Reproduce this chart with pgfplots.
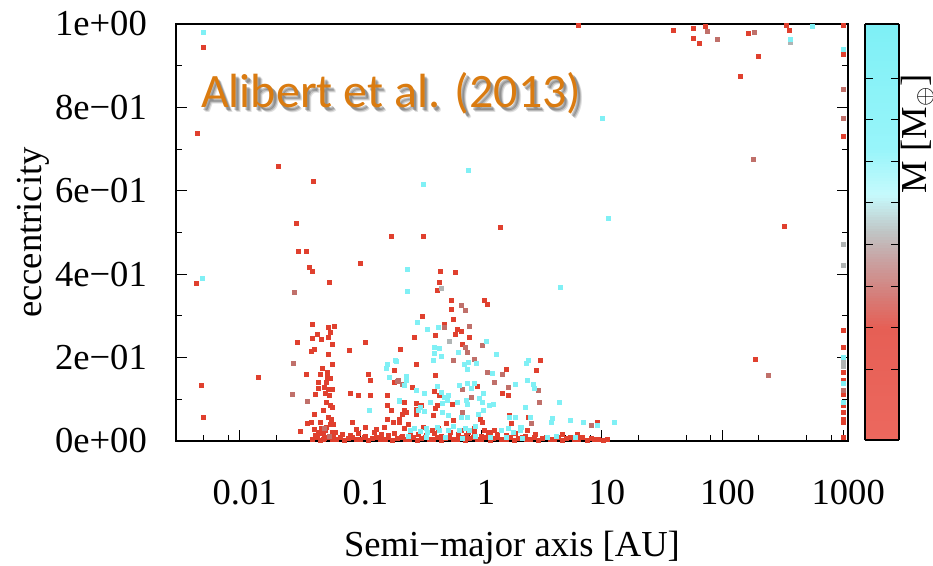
\documentclass[border=0pt]{standalone}
\usepackage{fontspec}
\setmainfont{Liberation Serif}
\newfontfamily\calibri{Carlito}
\usepackage{pgfplots}
\pgfplotsset{compat=1.18}
\definecolor{ptred}{RGB}{224,64,46}
\definecolor{ptrosy}{RGB}{192,112,106}
\definecolor{ptgrey}{RGB}{176,180,180}
\definecolor{ptcyan}{RGB}{128,240,245}
\definecolor{ttlorange}{RGB}{218,123,16}
\begin{document}
\begin{tikzpicture}[x=1pt,y=1pt]
\path[use as bounding box] (0pt,0pt) rectangle (933pt,565pt);
\begin{axis}[
  at={(176pt,124pt)}, anchor=south west,
  scale only axis, width=672pt, height=417pt,
  xmode=log, xmin=0.002965, xmax=1096, ymin=0, ymax=1,
  clip=false,
  xtick={0.01,0.1,1,10,100,1000},
  xticklabels={0.01,0.1,1,10,100,1000},
  minor xtick={0.005,0.008,0.02,0.05,0.08,0.2,0.5,0.8,2,5,8,20,50,80,200,500,800},
  ytick={0,0.2,0.4,0.6,0.8,1},
  yticklabels={0e+00,2e−01,4e−01,6e−01,8e−01,1e+00},
  minor ytick={0.1,0.3,0.5,0.7,0.9},
  xtick pos=left, ytick pos=both,
  tick align=inside,
  major tick length=11pt, minor tick length=6pt,
  tick style={black, line width=1pt},
  axis line style={line width=1.2pt, black},
  tick label style={font=\fontsize{36.6}{40}\selectfont},
  xticklabel style={inner sep=0pt, anchor=north, yshift=-39pt, xshift=5pt},
  yticklabel style={inner sep=0pt, anchor=east, xshift=-29pt},
  xlabel={Semi−major axis [AU]}, ylabel={eccentricity},
  label style={font=\fontsize{36.6}{40}\selectfont, inner sep=0pt},
  xlabel style={at={(axis description cs:0.5,-0.2758)}, anchor=base},
  ylabel style={at={(axis description cs:-0.1994,0.5)}, anchor=base},
  point meta min=0, point meta max=10,
  colormap={ecc}{rgb255(0cm)=(236,104,94); rgb255(2.7cm)=(230,95,85); rgb255(3.4cm)=(215,122,117); rgb255(4.4cm)=(200,165,165); rgb255(5cm)=(192,196,196); rgb255(5.9cm)=(198,250,252); rgb255(7cm)=(152,245,250); rgb255(10cm)=(126,240,246)},
  colorbar sampled,
  colorbar style={
    at={(parent axis.north east)}, anchor=north west, xshift=8.5pt,
    scale only axis, width=34pt, height=416pt,
    samples=150,
    axis on top,
    ytick={1.7,2.7,3.7,4.7,5.7,6.7,7.7,8.7},
    yticklabels={,,,,,,,},
    ytick pos=both, tick align=inside, major tick length=8pt,
    tick style={black, line width=1pt},
    axis line style={line width=1.2pt, black},
  },
]
% red planets
\addplot[only marks, mark=square*, mark size=2pt, color=ptred] table {
a e
0.005 0.945
0.00445 0.738
0.0209 0.658
0.0407 0.623
6.4 0.998
38.7 0.985
57 0.99
57 0.967
64 0.953
72 0.994
164 0.978
196 0.922
140 0.875
340 0.998
356 0.986
1000 0.998
1000 0.935
1000 0.928
1000 0.732
325 0.516
186 0.196
1000 0.265
1000 0.225
1000 0.166
1000 0.145
1000 0.113
1000 0.085
1000 0.07
1000 0.052
1000 0.044
1000 0.01
0.0291 0.522
0.0303 0.454
0.0354 0.454
0.0373 0.417
0.04 0.407
0.0549 0.382
0.1 0.426
0.179 0.49
0.332 0.49
1.45 0.512
0.46 0.408
0.61 0.405
0.45 0.38
0.43 0.362
0.0044 0.378
0.0048 0.133
0.005 0.056
0.0141 0.154
0.0354 0.16
0.0302 0.238
0.0316 0.024
0.0397 0.28
0.054 0.273
0.061 0.276
0.056 0.262
0.0437 0.257
0.0398 0.246
0.047 0.245
0.054 0.248
0.058 0.233
0.039 0.216
0.0415 0.219
0.054 0.207
0.080 0.217
0.11 0.236
0.048 0.175
0.053 0.166
0.058 0.185
0.046 0.161
0.053 0.153
0.056 0.151
0.045 0.141
0.052 0.142
0.058 0.125
0.045 0.126
0.05 0.13
0.054 0.124
0.042 0.113
0.051 0.114
0.055 0.11
0.052 0.094
0.056 0.085
0.058 0.08
0.049 0.073
0.0415 0.065
0.054 0.058
0.057 0.052
0.0365 0.042
0.039 0.046
0.046 0.046
0.056 0.041
0.052 0.034
0.059 0.041
0.0415 0.028
0.045 0.022
0.049 0.018
0.044 0.01
0.047 0.03
0.051 0.025
0.058 0.02
0.049 0.005
0.053 0.008
0.06 0.012
0.043 0.015
0.083 0.115
0.096 0.11
0.12 0.109
0.115 0.161
0.12 0.146
0.167 0.109
0.167 0.086
0.18 0.074
0.19 0.17
0.19 0.14
0.086 0.045
0.092 0.028
0.11 0.033
0.136 0.028
0.157 0.034
0.167 0.052
0.187 0.044
0.21 0.053
0.57 0.338
0.57 0.317
1.06 0.338
1.13 0.329
0.325 0.3
0.59 0.293
0.49 0.28
0.63 0.269
0.69 0.263
0.61 0.257
0.28 0.25
0.42 0.254
0.8 0.25
0.7 0.233
0.215 0.221
0.29 0.185
1.61 0.172
1.5 0.114
1.67 0.109
0.42 0.158
0.27 0.129
0.41 0.119
0.92 0.132
0.45 0.11
0.58 0.089
0.23 0.092
0.29 0.09
0.32 0.085
0.24 0.07
0.43 0.085
0.23 0.074
0.22 0.064
0.29 0.076
0.29 0.064
0.4 0.062
0.42 0.078
0.59 0.05
0.98 0.052
1.02 0.046
1.7 0.062
1.78 0.042
0.21 0.044
0.25 0.041
0.23 0.03
0.33 0.034
0.39 0.026
0.44 0.03
0.51 0.042
0.69 0.026
0.78 0.022
0.87 0.03
1.07 0.026
1.18 0.022
1.29 0.026
3.08 0.194
2.85 0.17
2.46 0.056
2.4 0.026
9.2 0.046
4.7 0.017
6.2 0.017
0.040 0.004
0.043 0.008
0.046 0.003
0.050 0.006
0.054 0.010
0.058 0.005
0.063 0.004
0.068 0.008
0.073 0.003
0.079 0.006
0.085 0.010
0.092 0.005
0.100 0.004
0.108 0.008
0.117 0.003
0.126 0.006
0.136 0.010
0.147 0.005
0.159 0.004
0.171 0.008
0.185 0.003
0.200 0.006
0.216 0.010
0.233 0.005
0.252 0.004
0.272 0.008
0.294 0.003
0.317 0.006
0.343 0.010
0.370 0.005
0.400 0.004
0.432 0.008
0.466 0.003
0.504 0.006
0.544 0.010
0.588 0.005
0.635 0.004
0.685 0.008
0.740 0.003
0.800 0.006
0.864 0.010
0.933 0.005
1.01 0.004
1.09 0.008
1.18 0.003
1.27 0.006
1.37 0.010
1.48 0.005
1.60 0.004
1.73 0.008
1.87 0.003
2.02 0.006
2.18 0.010
2.35 0.005
2.54 0.004
2.74 0.008
2.96 0.003
3.20 0.006
3.45 0.010
3.73 0.005
4.03 0.004
4.35 0.008
4.70 0.003
5.10 0.006
5.50 0.010
5.90 0.005
6.40 0.004
6.90 0.008
7.50 0.003
8.10 0.006
8.70 0.004
9.40 0.005
10.2 0.003
11.0 0.004
0.042 0.014
0.048 0.018
0.055 0.012
0.062 0.020
0.070 0.016
0.082 0.014
0.095 0.018
0.110 0.012
0.130 0.020
0.150 0.016
0.170 0.014
0.190 0.018
0.220 0.012
0.260 0.020
0.300 0.016
0.350 0.014
0.410 0.018
0.470 0.012
0.550 0.020
0.640 0.016
0.750 0.014
0.870 0.018
1.00 0.012
1.15 0.020
1.35 0.016
1.60 0.014
1.90 0.018
2.30 0.012
2.80 0.016
};
% rosy planets
\addplot[only marks, mark=square*, mark size=2pt, color=ptrosy] table {
a e
0.0283 0.357
0.027 0.113
0.0365 0.096
0.0278 0.186
74 0.982
90 0.964
183 0.98
1000 0.844
1000 0.775
178 0.675
237 0.158
0.68 0.326
0.74 0.314
0.49 0.272
0.79 0.276
0.74 0.225
0.77 0.214
1.03 0.229
0.59 0.194
0.87 0.196
1.13 0.166
1.5 0.161
1.29 0.141
1.67 0.13
0.2 0.144
0.22 0.137
0.7 0.124
0.83 0.106
0.7 0.07
2.97 0.122
3.0 0.094
8.1 0.038
2.6 0.042
1000 0.122
0.207 0.145
0.05 0.03
0.055 0.012
};
% grey planets
\addplot[only marks, mark=square*, mark size=2pt, color=ptgrey] table {
a e
0.47 0.366
0.54 0.24
362 0.957
1000 0.472
1000 0.421
1000 0.19
1000 0.18
};
% cyan planets
\addplot[only marks, mark=square*, mark size=2pt, color=ptcyan] table {
a e
0.005 0.98
0.332 0.616
0.783 0.65
555 0.994
362 0.964
1000 0.94
10 0.773
11.2 0.534
0.0049 0.39
0.246 0.412
0.246 0.36
0.118 0.074
0.162 0.174
0.172 0.154
0.168 0.185
0.193 0.193
0.208 0.097
0.295 0.285
0.36 0.268
0.44 0.273
1.11 0.239
0.41 0.225
0.45 0.222
0.41 0.21
0.47 0.204
0.64 0.213
0.197 0.192
0.4 0.194
0.72 0.184
0.78 0.188
0.76 0.173
0.91 0.186
1.34 0.209
1.24 0.162
1.91 0.137
0.24 0.156
0.24 0.146
0.23 0.134
0.29 0.122
0.34 0.114
0.43 0.132
0.47 0.116
0.66 0.134
0.76 0.138
0.87 0.138
0.83 0.126
0.49 0.106
0.53 0.11
0.52 0.098
0.48 0.09
0.63 0.092
0.75 0.097
0.77 0.088
0.97 0.102
1.02 0.094
1.04 0.114
0.21 0.096
0.38 0.094
0.34 0.072
1.17 0.087
1.26 0.088
1.04 0.074
0.94 0.064
0.3 0.074
0.31 0.08
0.48 0.069
0.53 0.062
0.69 0.058
0.76 0.058
1.7 0.057
1.9 0.058
2.1 0.033
0.26 0.026
0.28 0.03
0.31 0.024
0.35 0.03
0.36 0.022
0.43 0.034
0.45 0.026
0.53 0.026
0.59 0.036
0.66 0.026
0.74 0.03
0.8 0.026
0.89 0.036
1.48 0.026
1.67 0.03
1.86 0.022
2.1 0.026
4.56 0.37
2.46 0.194
2.35 0.186
2.41 0.145
2.7 0.136
2.77 0.126
4.4 0.094
2.3 0.081
2.53 0.057
2.15 0.034
3.9 0.054
3.8 0.044
5.5 0.049
7.0 0.046
9.2 0.038
12.6 0.044
4.2 0.012
6.0 0.009
1000 0.202
1000 0.138
1000 0.094
0.35 0.008
0.5 0.01
0.7 0.006
0.9 0.012
1.2 0.008
1.6 0.01
2.2 0.006
3.5 0.01
0.25 0.012
};
\end{axis}
% title with soft shadow
\foreach \d/\o in {4.5/0.12, 3.5/0.18, 2.5/0.22}{
  \node[anchor=base west, inner sep=0pt, text=black, opacity=\o,
        font=\calibri\fontsize{48}{56}\selectfont] at (201pt+\d pt,457pt-\d pt) {Alibert et al. (2013)};
}
\node[anchor=base west, inner sep=0pt, text=ttlorange,
      font=\calibri\fontsize{48}{56}\selectfont] at (201pt,457pt) {Alibert et al. (2013)};
% colorbar label
\node[rotate=90, anchor=base, inner sep=0pt, font=\fontsize{36.6}{40}\selectfont]
  at (926pt,431pt) {M [M$_{\oplus}$]};
\end{tikzpicture}
\end{document}
